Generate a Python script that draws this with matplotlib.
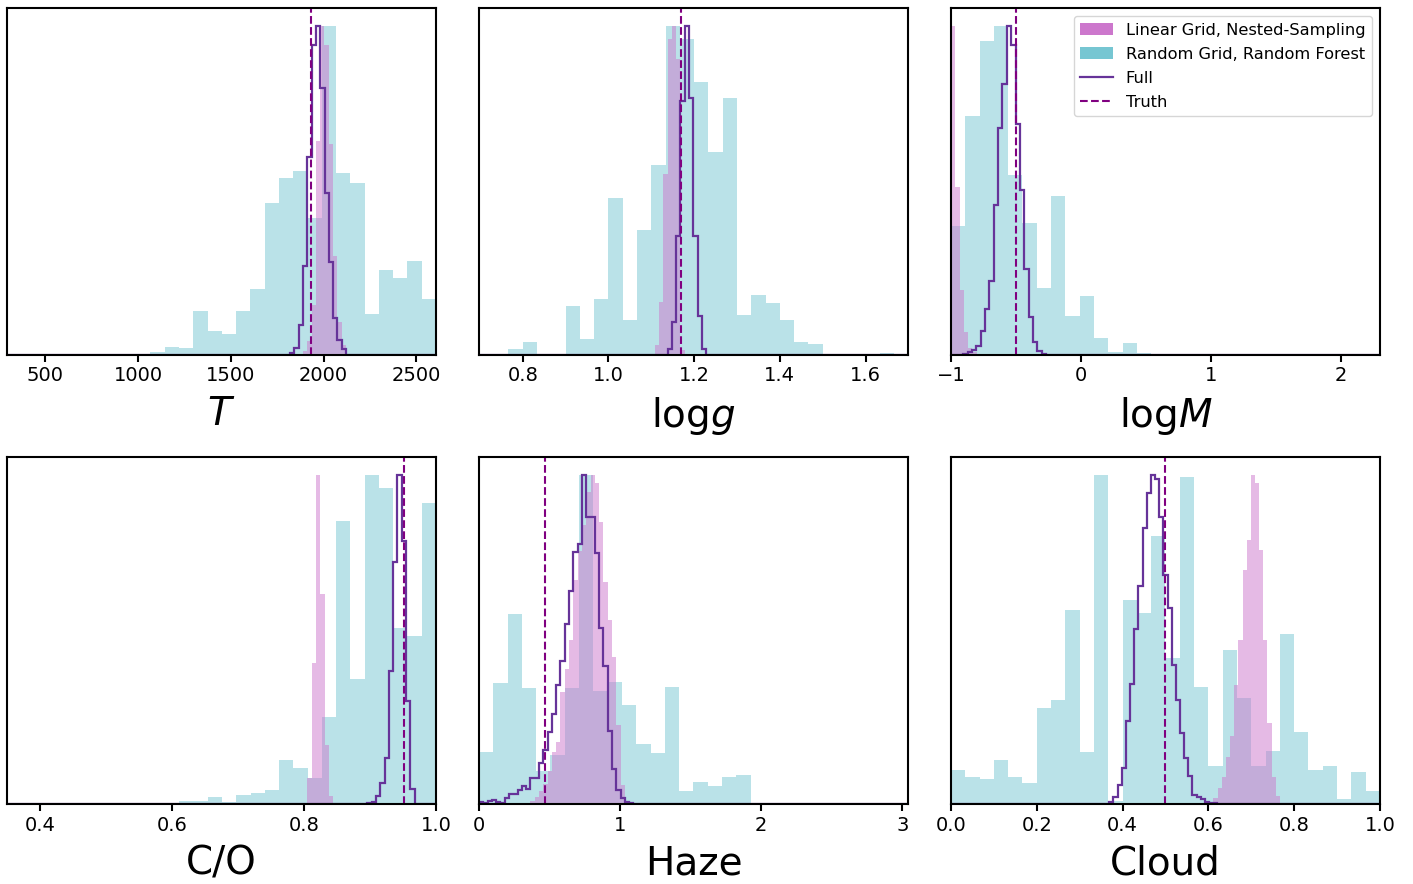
import numpy as np
import matplotlib.pyplot as plt

# Posterior comparison for the six retrieved parameters.
# Every histogram is stored as (first bin edge, bin width) plus heights
# normalised to a peak of 1.
labels = [r'$T$', r'log$g$', r'log$M$', 'C/O', 'Haze', 'Cloud']
xlims = [(294, 2606), (0.698, 1.699), (-1.0, 2.3), (0.35, 1.0), (0.0, 3.04), (0.0, 1.0)]
xticks = [[500, 1000, 1500, 2000, 2500], [0.8, 1.0, 1.2, 1.4, 1.6], [-1, 0, 1, 2],
          [0.4, 0.6, 0.8, 1.0], [0, 1, 2, 3], [0.0, 0.2, 0.4, 0.6, 0.8, 1.0]]
truths = [1931, 1.17, -0.5, 0.951, 0.47, 0.5]

# Random Grid, Random Forest
rf_bins = [(990, 76.9), (23 / 30, 1 / 30), (-1.0, 0.11), (0.611, 0.0216), (0.0, 0.1013), (0.0, 1 / 30)]
rf_T = [0.003, 0.008, 0.023, 0.019, 0.132, 0.073, 0.063, 0.132, 0.200, 0.461, 0.537,
        0.559, 0.416, 1.0, 0.551, 0.521, 0.122, 0.257, 0.234, 0.284, 0.170]
rf_logg = [0.018, 0.037, 0, 0, 0.149, 0.047, 0.168, 0.477, 0.104, 0.379, 0.576, 1.0,
           0.959, 0.829, 0.617, 0.78, 0.119, 0.181, 0.157, 0.104, 0.037, 0.032,
           0, 0, 0, 0, 0.005]
rf_logM = [0.391, 0.724, 0.954, 1.0, 0.545, 0.401, 0.203, 0.482, 0.117, 0.178, 0.051,
           0.007, 0.034, 0.004]
rf_CO = [0.008, 0.008, 0.020, 0.005, 0.028, 0.032, 0.043, 0.134, 0.110, 0.08, 0.266,
         0.86, 0.38, 1.0, 0.961, 0.536, 0.51, 0.914]
rf_haze = [0.159, 0.368, 0.577, 0.353, 0.1, 0.15, 0.353, 1.0, 0.345, 0.37, 0.3, 0.183,
           0.155, 0.357, 0.041, 0.068, 0.056, 0.083, 0.089, 0.003]
rf_cloud = [0.104, 0.081, 0.075, 0.134, 0.081, 0.064, 0.291, 0.315, 0.589, 0.159, 1.0,
            0.01, 0.619, 0.582, 0.814, 0.445, 0.995, 0.355, 0.117, 0.469, 0.323, 0.117,
            0.162, 0.518, 0.218, 0.104, 0.117, 0.015, 0.098, 0.039]

# Linear Grid, Nested-Sampling
ns_bins = [(1889, 23.12), (1.108, 0.01), (-1.0, 0.033), (0.805, 0.0065), (0.3648, 0.0304), (0.602, 0.0097)]
ns_T = [0.01, 0.04, 0.15, 0.65, 1.0, 0.94, 0.64, 0.30, 0.10, 0.03]
ns_logg = [0.03, 0.16, 0.55, 0.96, 1.0, 0.9, 0.015]
ns_logM = [1.0, 0.51, 0.195, 0.068, 0.02, 0.007]
ns_CO = [0.08, 0.43, 1.0, 0.64, 0.18, 0.025]
ns_haze = [0.008, 0.02, 0.04, 0.06, 0.1, 0.157, 0.19, 0.34, 0.41, 0.5, 0.68, 0.77,
           0.85, 0.95, 1.0, 0.975, 0.858, 0.676, 0.56, 0.446, 0.24, 0.058, 0.007, 0.002]
ns_cloud = [0.007, 0.017, 0.048, 0.083, 0.144, 0.207, 0.362, 0.498, 0.711, 0.802, 1.0,
            0.975, 0.772, 0.498, 0.245, 0.083, 0.025]

# Full retrieval
full_bins = [(1820, 23.12), (1.138, 0.01), (-0.905, 0.0335), (0.896, 0.0065), (0.0, 0.0304), (0.369, 0.0097)]
full_T = [0.005, 0.02, 0.09, 0.27, 0.60, 0.94, 1.0, 0.81, 0.49, 0.28, 0.11, 0.043, 0.017]
full_logg = [0.017, 0.10, 0.36, 0.77, 1.0, 0.78, 0.36, 0.117, 0.017]
full_logM = [0.002, 0.007, 0.015, 0.027, 0.073, 0.137, 0.225, 0.456, 0.69, 0.823, 1.0,
             0.94, 0.70, 0.5, 0.26, 0.113, 0.037, 0.012, 0.002]
full_CO = [0.002, 0.007, 0.025, 0.063, 0.141, 0.404, 0.735, 1.0, 0.80, 0.314, 0.046]
full_haze = [0.007, 0.004, 0.009, 0.012, 0.007, 0.002, 0.017, 0.029, 0.029, 0.043, 0.056,
             0.045, 0.078, 0.08, 0.124, 0.164, 0.218, 0.274, 0.362, 0.435, 0.547, 0.648,
             0.767, 0.792, 1.0, 0.873, 0.873, 0.762, 0.534, 0.42, 0.222, 0.106, 0.043,
             0.017, 0.007, 0.002]
full_cloud = [0.007, 0.022, 0.058, 0.108, 0.252, 0.364, 0.532, 0.664, 0.84, 0.947, 1.0,
              0.99, 0.873, 0.698, 0.595, 0.422, 0.316, 0.215, 0.139, 0.086, 0.027, 0.022,
              0.015, 0.007, 0.003, 0.002]

rf_all = [rf_T, rf_logg, rf_logM, rf_CO, rf_haze, rf_cloud]
ns_all = [ns_T, ns_logg, ns_logM, ns_CO, ns_haze, ns_cloud]
full_all = [full_T, full_logg, full_logM, full_CO, full_haze, full_cloud]

ns_color = '#cc77cc'
rf_color = '#76c6d2'
full_color = '#663399'
truth_color = '#800080'


def bin_edges(start, width, n):
    return start + width * np.arange(n + 1)


fig, axes = plt.subplots(2, 3, figsize=(14.13, 8.84), dpi=100)
fig.subplots_adjust(left=7 / 1413, right=1380 / 1413, bottom=80 / 884, top=876 / 884,
                    wspace=0.10, hspace=0.297)

for i, ax in enumerate(axes.flat):
    lo, hi = xlims[i]
    rf = np.array(rf_all[i])
    ns = np.array(ns_all[i])
    full = np.array(full_all[i])

    ax.stairs(rf, bin_edges(*rf_bins[i], len(rf)), fill=True, color=rf_color,
              alpha=0.5, linewidth=0, label='Random Grid, Random Forest')
    ax.stairs(ns, bin_edges(*ns_bins[i], len(ns)), fill=True, color=ns_color,
              alpha=0.5, linewidth=0, label='Linear Grid, Nested-Sampling')

    # pad the full posterior with empty bins out to the axis limits
    fe = bin_edges(*full_bins[i], len(full))
    fh = full
    if fe[0] > lo:
        fe = np.concatenate([[lo], fe])
        fh = np.concatenate([[0], fh])
    if fe[-1] < hi:
        fe = np.concatenate([fe, [hi]])
        fh = np.concatenate([fh, [0]])
    ax.stairs(fh, fe, color=full_color, linewidth=1.6, label='Full')

    ax.axvline(truths[i], color=truth_color, linestyle='--', linewidth=1.5, label='Truth')

    ax.set_xlim(lo, hi)
    ax.set_ylim(0, 1.054)
    ax.set_xticks(xticks[i])
    ax.set_yticks([])
    ax.set_xlabel(labels[i], fontsize=28, labelpad=7)
    ax.tick_params(axis='x', labelsize=14, width=1.5, length=5)
    for sp in ax.spines.values():
        sp.set_linewidth(1.5)

    if i == 2:
        h, l = ax.get_legend_handles_labels()
        order = [1, 0, 2, 3]
        leg = ax.legend([h[k] for k in order], [l[k] for k in order],
                        loc='upper right', fontsize=11.7, labelspacing=0.56)
        for hd in leg.legend_handles[:2]:
            hd.set_alpha(1)

plt.savefig('out.png', dpi=100)
